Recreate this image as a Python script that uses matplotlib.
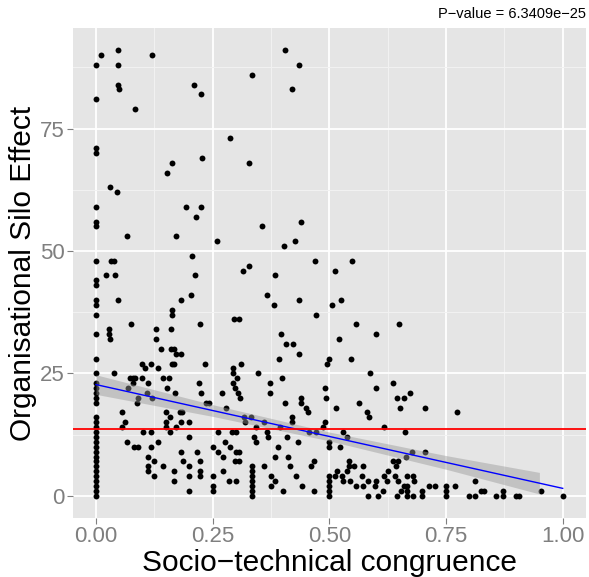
import matplotlib
matplotlib.use("Agg")
import matplotlib.pyplot as plt
import numpy as np

plt.rcParams["font.family"] = ["Liberation Sans", "DejaVu Sans"]

# --- data ---
# x = socio-technical congruence, y = organisational silo effect
zero_col_y = [88, 81, 71, 70, 59, 56, 55, 48, 44, 43, 40, 39, 37, 33, 28, 25,
              23, 22, 21, 20, 19, 16, 15, 14, 13, 12, 11, 10, 9, 8, 7, 6, 5,
              4, 3, 2, 1, 0]

points_upper = [
    (0.011, 90), (0.048, 91), (0.048, 88), (0.119, 90), (0.048, 84), (0.050, 83),
    (0.084, 79), (0.211, 84), (0.226, 82), (0.334, 86), (0.405, 91), (0.434, 88),
    (0.419, 83), (0.287, 73), (0.162, 68), (0.153, 66), (0.227, 69), (0.328, 68),
    (0.030, 63), (0.046, 62), (0.193, 59), (0.226, 59), (0.214, 57), (0.355, 55),
    (0.440, 56), (0.066, 53), (0.171, 53), (0.259, 52), (0.402, 51), (0.427, 52),
    (0.033, 48), (0.039, 48), (0.206, 49), (0.469, 48), (0.549, 48), (0.512, 46),
    (0.328, 47), (0.315, 46), (0.383, 45), (0.021, 45), (0.041, 45), (0.213, 45),
    (0.047, 40), (0.183, 40), (0.203, 41), (0.366, 41), (0.434, 40), (0.525, 40),
]

points_left = [
    (0.075, 35), (0.027, 34), (0.028, 33), (0.031, 32), (0.128, 34), (0.128, 32),
    (0.160, 34), (0.163, 38), (0.163, 37), (0.222, 35), (0.139, 30), (0.160, 30),
    (0.167, 30), (0.172, 29), (0.183, 29), (0.163, 27), (0.167, 27), (0.234, 27),
    (0.098, 27), (0.105, 26), (0.118, 27), (0.133, 26), (0.039, 25), (0.073, 24),
    (0.080, 24), (0.084, 24), (0.098, 24), (0.143, 24), (0.156, 24), (0.080, 23),
    (0.112, 23), (0.069, 22), (0.153, 22), (0.220, 23), (0.226, 21), (0.110, 21),
    (0.091, 20), (0.087, 19), (0.121, 20), (0.170, 21), (0.236, 19), (0.243, 19),
    (0.151, 17), (0.158, 16), (0.180, 17), (0.184, 17), (0.055, 17), (0.062, 15),
    (0.055, 14), (0.151, 15), (0.151, 14), (0.183, 15), (0.199, 15), (0.172, 14),
    (0.261, 13), (0.100, 13), (0.118, 13), (0.158, 13), (0.199, 12), (0.133, 11),
    (0.066, 11), (0.082, 10), (0.091, 10), (0.118, 10), (0.250, 10), (0.183, 9),
    (0.217, 9), (0.261, 9), (0.111, 8), (0.125, 7), (0.187, 7), (0.222, 7),
    (0.111, 6), (0.111, 5), (0.143, 6), (0.199, 6), (0.222, 5), (0.222, 4),
    (0.125, 4), (0.167, 5), (0.199, 4), (0.250, 4), (0.167, 3), (0.250, 2),
    (0.250, 1), (0.199, 1),
]

points_mid = [
    (0.382, 39), (0.505, 39), (0.472, 37), (0.295, 36), (0.307, 36), (0.396, 33),
    (0.408, 31), (0.422, 31), (0.521, 32), (0.435, 29), (0.392, 28), (0.499, 28),
    (0.495, 27), (0.311, 27), (0.293, 26), (0.293, 25), (0.348, 25), (0.302, 24),
    (0.398, 24), (0.293, 23), (0.298, 22), (0.305, 21), (0.309, 20), (0.373, 23),
    (0.373, 21), (0.270, 21), (0.490, 22), (0.493, 20), (0.439, 20), (0.440, 19),
    (0.449, 18), (0.455, 17), (0.405, 19), (0.514, 18), (0.279, 18), (0.318, 16),
    (0.332, 16), (0.319, 15), (0.421, 16), (0.421, 15), (0.361, 15), (0.343, 14),
    (0.395, 14), (0.490, 15), (0.486, 14), (0.291, 13), (0.300, 13), (0.366, 13),
    (0.456, 13), (0.471, 13), (0.338, 12), (0.368, 12), (0.409, 12), (0.529, 13),
    (0.343, 11), (0.277, 11), (0.432, 11), (0.499, 11), (0.499, 10), (0.288, 10),
    (0.272, 8), (0.300, 9), (0.307, 9), (0.389, 10), (0.522, 10), (0.384, 8),
    (0.412, 8), (0.298, 7), (0.307, 7), (0.467, 7), (0.361, 6), (0.416, 6),
    (0.460, 6), (0.272, 5), (0.334, 6), (0.334, 5), (0.334, 4), (0.334, 3),
    (0.334, 2), (0.334, 1), (0.334, 0), (0.375, 4), (0.384, 3), (0.286, 3),
    (0.300, 3), (0.429, 4), (0.375, 2), (0.442, 2), (0.400, 1), (0.466, 1),
    (0.517, 5), (0.511, 4), (0.527, 4), (0.538, 5), (0.499, 4), (0.499, 3),
    (0.499, 2), (0.499, 1), (0.499, 0),
]

points_right = [
    (0.557, 35), (0.649, 35), (0.600, 33), (0.547, 28), (0.588, 25), (0.599, 22),
    (0.637, 23), (0.564, 19), (0.644, 20), (0.659, 20), (0.672, 21), (0.652, 18),
    (0.704, 18), (0.773, 17), (0.581, 17), (0.585, 16), (0.618, 14), (0.662, 13),
    (0.537, 12), (0.676, 9), (0.704, 9), (0.664, 8), (0.542, 7), (0.542, 6),
    (0.552, 6), (0.571, 6), (0.637, 7), (0.648, 7), (0.643, 6), (0.625, 5),
    (0.530, 3), (0.544, 3), (0.570, 4), (0.618, 4), (0.641, 4), (0.666, 4),
    (0.680, 4), (0.582, 3), (0.600, 3), (0.623, 3), (0.648, 3), (0.682, 3),
    (0.556, 2), (0.571, 2), (0.598, 2), (0.659, 2), (0.666, 2), (0.714, 2),
    (0.726, 2), (0.750, 2), (0.750, 1), (0.769, 2), (0.615, 1), (0.653, 1),
    (0.667, 1), (0.698, 1), (0.582, 0), (0.604, 0), (0.645, 0), (0.667, 0),
    (0.680, 0), (0.698, 0), (0.750, 0), (0.800, 0), (0.813, 0), (0.811, 3),
    (0.824, 1), (0.831, 1), (0.856, 0), (0.873, 1), (0.873, 0), (0.899, 0),
    (0.907, 0), (0.953, 1), (1.000, 0),
]

# linear fit + confidence band, and the mean line
fit_intercept = 22.7
fit_slope = -21.2
fit_range = [0.0, 1.0]
band_x = [0.0, 0.25, 0.5, 0.75, 0.95]
band_half = [2.0, 1.2, 0.9, 1.4, 2.2]
mean_silo = 13.6
p_value_text = "P\u2212value = 6.3409e\u221225"

x_ticks = [0.0, 0.25, 0.5, 0.75, 1.0]
x_tick_labels = ["0.00", "0.25", "0.50", "0.75", "1.00"]
y_ticks = [0, 25, 50, 75]

# --- build arrays ---
all_pts = points_upper + points_left + points_mid + points_right
xs = [0.0] * len(zero_col_y) + [p[0] for p in all_pts]
ys = list(zero_col_y) + [p[1] for p in all_pts]

fig = plt.figure(figsize=(5.89, 5.77), dpi=100)
ax = fig.add_axes([0.1234, 0.1023, 0.8716, 0.8492])
ax.set_facecolor("#E5E5E5")

ax.set_xlim(-0.05, 1.05)
ax.set_ylim(-4.55, 95.55)

# grid: minor grey95, major white
ax.set_xticks([-0.125 + 0.25 * i for i in range(1, 5)], minor=True)
ax.set_yticks([12.5, 37.5, 62.5, 87.5], minor=True)
ax.grid(which="minor", color="#F2F2F2", linewidth=0.7)
ax.grid(which="major", color="white", linewidth=1.3)
ax.set_axisbelow(True)
ax.tick_params(which="minor", length=0)

for s in ax.spines.values():
    s.set_visible(False)

ax.scatter(xs, ys, s=18, color="black", linewidths=0, zorder=3)

bx = np.array(band_x)
by = fit_intercept + fit_slope * bx
bh = np.array(band_half)
ax.fill_between(bx, by - bh, by + bh, color="#999999", alpha=0.45,
                linewidth=0, zorder=4)

fx = np.array(fit_range)
ax.plot(fx, fit_intercept + fit_slope * fx, color="#0000FF", linewidth=1.0,
        zorder=5)
ax.axhline(mean_silo, color="#FF0000", linewidth=1.3, zorder=6)

ax.set_xticks(x_ticks)
ax.set_xticklabels(x_tick_labels)
ax.set_yticks(y_ticks)
ax.tick_params(which="major", colors="#7F7F7F", labelsize=16, length=4,
               width=0.8, pad=2)

ax.set_xlabel("Socio\u2212technical congruence", fontsize=21.5, labelpad=1)
ax.set_ylabel("Organisational Silo Effect", fontsize=21.5, labelpad=2)

fig.text(0.995, 0.975, p_value_text, ha="right", va="center", fontsize=10.5)

fig.savefig("out.png", dpi=100)
